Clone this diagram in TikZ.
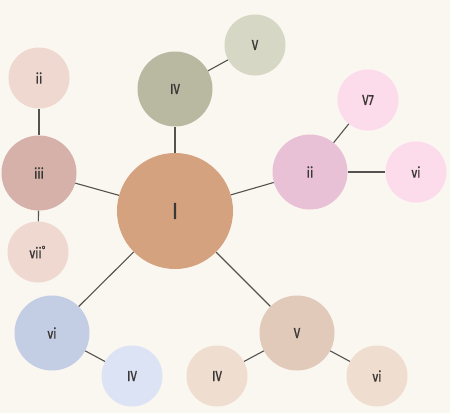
\documentclass[tikz,border=0pt]{standalone}
\usepackage{fontspec}
\setmainfont{Fira Sans}[FakeStretch=0.8, FakeBold=1.2]
\usetikzlibrary{calc}

\definecolor{bgcream}{HTML}{FAF6F0}
\definecolor{labelgray}{HTML}{3A3836}
\definecolor{linegray}{HTML}{555350}
\definecolor{tonicfill}{HTML}{D4A27F}
\definecolor{subfill}{HTML}{B9B9A1}
\definecolor{subfilllt}{HTML}{D6D7C4}
\definecolor{supfill}{HTML}{E9C1D6}
\definecolor{supfilllt}{HTML}{FCDCEB}
\definecolor{medfill}{HTML}{D5B1A9}
\definecolor{medfilllt}{HTML}{EED8D0}
\definecolor{relfill}{HTML}{C3CEE5}
\definecolor{relfilllt}{HTML}{DCE3F4}
\definecolor{domfill}{HTML}{E1CAB9}
\definecolor{domfilllt}{HTML}{EFDDD0}

\begin{document}
\begin{tikzpicture}[x=1pt,y=-1pt,
  chord/.style={circle, inner sep=0pt, text=labelgray, font=\fontsize{14.5}{14.5}\selectfont},
  tonic/.style={chord, minimum size=116pt, font=\fontsize{23}{23}\selectfont},
  first/.style={chord, minimum size=75pt},
  second/.style={chord, minimum size=61pt},
  link/.style={draw=linegray, line width=1.1pt}]

% background
\fill[bgcream] (0,0) rectangle (450,413);
\useasboundingbox (0,0) rectangle (450,413);

% tonic
\node[tonic, fill=tonicfill] (I) at (175,211) {I};

% first ring
\node[first, fill=subfill] (IVa) at (175,89) {IV};
\node[first, fill=supfill] (iia) at (310,172) {ii};
\node[first, fill=medfill] (iiia) at (39,173) {iii};
\node[first, fill=relfill] (via) at (52,333) {vi};
\node[first, fill=domfill] (Va) at (297,333) {V};

% second ring
\node[second, fill=subfilllt] (Vb) at (255,45) {V};
\node[second, fill=supfilllt] (V7b) at (368,100) {V7};
\node[second, fill=supfilllt] (vib) at (416,172) {vi};
\node[second, fill=medfilllt] (iib) at (39,78) {ii};
\node[second, fill=medfilllt] (viib) at (38,252) {vii\textsuperscript{°}};
\node[second, fill=relfilllt] (IVb) at (132,376) {IV};
\node[second, fill=domfilllt] (IVc) at (217,376) {IV};
\node[second, fill=domfilllt] (vic) at (377,376) {vi};

% links from tonic
\foreach \n in {IVa,iia,iiia,via,Va}
  \draw[link] (I) -- (\n);

% links to second ring
\foreach \a/\b in {IVa/Vb, iia/V7b, iia/vib, iiia/iib, iiia/viib, via/IVb, Va/IVc, Va/vic}
  \draw[link] (\a) -- (\b);

\end{tikzpicture}
\end{document}
